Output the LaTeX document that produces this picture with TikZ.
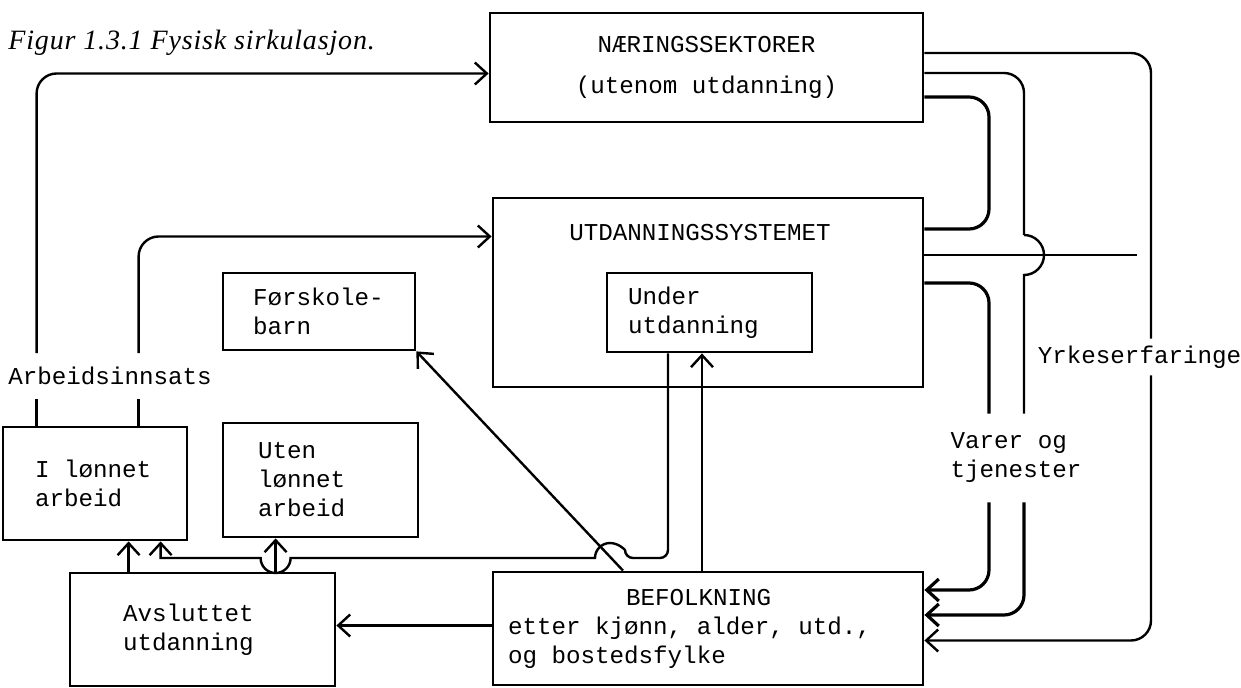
\documentclass[tikz,border=0pt]{standalone}
\usepackage{fontspec}
\setmainfont{Liberation Serif}
\setmonofont{Liberation Mono}[WordSpace={1,0,0}]
\usetikzlibrary{positioning,calc,arrows.meta}
\newcommand{\typew}{\ttfamily\fontsize{12.1}{14.5}\selectfont}
\tikzset{
	box/.style={draw, line width=1.4pt, font=\typew, align=left, execute at begin node={\spaceskip=0pt\xspaceskip=0pt}},
	lbl/.style={font=\typew, align=left},
	conn/.style={line width=1.2pt},
	thick conn/.style={line width=1.6pt},
	arrowto/.style={-{Straight Barb[length=6pt,width=11pt]}},
}

\begin{document}
\begin{tikzpicture}[x=0.5pt, y=-0.5pt]
	\useasboundingbox (0,0) rectangle (1241,688);
	\node[anchor=base west, inner xsep=0pt, font=\itshape\fontsize{14}{16}\selectfont\addfontfeature{LetterSpace=3}] (title) at (8,50) {Figur 1.3.1 Fysisk sirkulasjon.};

	\node[box, align=center, minimum width=216.5pt, minimum height=54.5pt] (naer) at (706.5,67.5) {NÆRINGSSEKTORER\\[6pt](utenom utdanning)};
	\node[box, minimum width=215pt, minimum height=94.5pt] (utd) at (708,292.5) {};
	\node[lbl] (utdtxt) at ([xshift=-4pt, yshift=-18pt]utd.north) {UTDANNINGSSYSTEMET};
	\node[box, text width=81.5pt, inner xsep=10.5pt, minimum height=39.5pt] (under) at (709.5,312.5) {Under\\utdanning};
	\node[box, text width=66pt, inner xsep=15pt, minimum height=38.5pt] (forsk) at (319,311.5) {Førskole-\\barn};
	\node[box, text width=60pt, inner xsep=16pt, minimum height=56.5pt] (ilonn) at (95,483.5) {I lønnet\\arbeid};
	\node[box, text width=62.5pt, inner xsep=17.5pt, minimum height=57pt] (ulonn) at (320.5,480) {Uten\\lønnet\\arbeid};
	\node[box, text width=79.5pt, inner xsep=26.5pt, minimum height=56.5pt] (avsl) at (202.5,629.5) {Avsluttet\\utdanning};
	\node[box, text width=200pt, inner xsep=7.5pt, minimum height=56.5pt] (befolk) at (708,628.5) {\hspace*{59pt}BEFOLKNING\\etter kjønn, alder, utd.,\\og bostedsfylke};

	\node[lbl, inner ysep=6.8pt] (arb) at (110,376) {Arbeidsinnsats};
	\node[lbl, inner ysep=9.5pt] (varer) at (1016,458) {Varer og\\tjenester};
	\node[lbl, inner xsep=0pt] (yrke) at (1139.5,357) {Yrkeserfaringe};

	\coordinate (vx1) at (989,0);
	\coordinate (vx2) at (1024,0);
	\coordinate (vx3) at (1151,0);
	\coordinate (ne1) at ([yshift=7.25pt]naer.east);
	\coordinate (ne2) at ([yshift=-2.75pt]naer.east);
	\coordinate (ne3) at ([yshift=-14.75pt]naer.east);
	\coordinate (ue1) at ([yshift=31.75pt]utd.east);
	\coordinate (ue2) at ([yshift=18.75pt]utd.east);
	\coordinate (ue3) at ([yshift=4.75pt]utd.east);
	\coordinate (be1) at ([yshift=19.25pt]befolk.east);
	\coordinate (be2) at ([yshift=6.75pt]befolk.east);
	\coordinate (be3) at ([yshift=-6pt]befolk.east);

	\coordinate (ar1) at ([xshift=17.5pt]ilonn.north west);
	\coordinate (ar2) at ([xshift=68.5pt]ilonn.north west);
	\draw[conn] (ar1) -- (arb.south -| ar1);
	\draw[conn] (ar2) -- (arb.south -| ar2);
	\draw[conn, arrowto, rounded corners=10pt] (arb.north -| ar1) |- ([yshift=-3pt]naer.west);
	\draw[conn, arrowto, rounded corners=10pt] (arb.north -| ar2) |- ([yshift=28pt]utd.west);

	\draw[conn, rounded corners=10pt] (ne1) -| (yrke.north -| vx3);
	\draw[conn, arrowto, rounded corners=10pt] (yrke.south -| vx3) |- (be3);
	\draw[conn] (ue2) -- ([xshift=-7pt]ue2 -| vx3);
	\coordinate (hop) at ([yshift=10pt]vx2 |- ue2);
	\draw[conn, rounded corners=10pt] (ne2) -| (hop);
	\draw[conn] (hop) arc[start angle=90, end angle=-90, radius=10pt] -- (varer.north -| vx2);
	\draw[thick conn, arrowto, rounded corners=10pt] (varer.south -| vx2) |- (be2);
	\draw[thick conn, rounded corners=10pt] (ne3) -| (vx1 |- ue1) -- (ue1);
	\draw[thick conn, rounded corners=10pt] (ue3) -| (varer.north -| vx1);
	\draw[thick conn, arrowto, rounded corners=10pt] (varer.south -| vx1) |- (be1);

	\coordinate (aw) at ([yshift=2pt]avsl.east);
	\draw[conn, arrowto] (befolk.west |- aw) -- (aw);
	\coordinate (a1) at ([xshift=30pt]avsl.north west);
	\coordinate (a2) at ([xshift=103.5pt]avsl.north west);
	\draw[conn, arrowto] (a1) -- (ilonn.south -| a1);
	\draw[conn, arrowto] (a2) -- (ulonn.south -| a2);
	\coordinate (b1) at ([xshift=-3pt]befolk.north);
	\coordinate (b2) at ([xshift=-42.5pt]befolk.north);
	\draw[conn, arrowto] (b1) -- (under.south -| b1);
	\draw[conn, arrowto] (b2) -- (forsk.south east);

	\coordinate (u1) at ([xshift=-20.75pt]under.south);
	\coordinate (hy) at (0,558);
	\coordinate (h1) at (625,558);
	\coordinate (h2) at ([xshift=7.5pt]a2 |- hy);
	\coordinate (il) at ([xshift=79.5pt]ilonn.south west);
	\draw[conn, arrowto] (u1) [rounded corners=4pt] |- (h1) [sharp corners] arc[start angle=0, end angle=180, radius=7.5pt] -- (h2) arc[start angle=0, end angle=-180, radius=7.5pt] -| (il);
\end{tikzpicture}
\end{document}
